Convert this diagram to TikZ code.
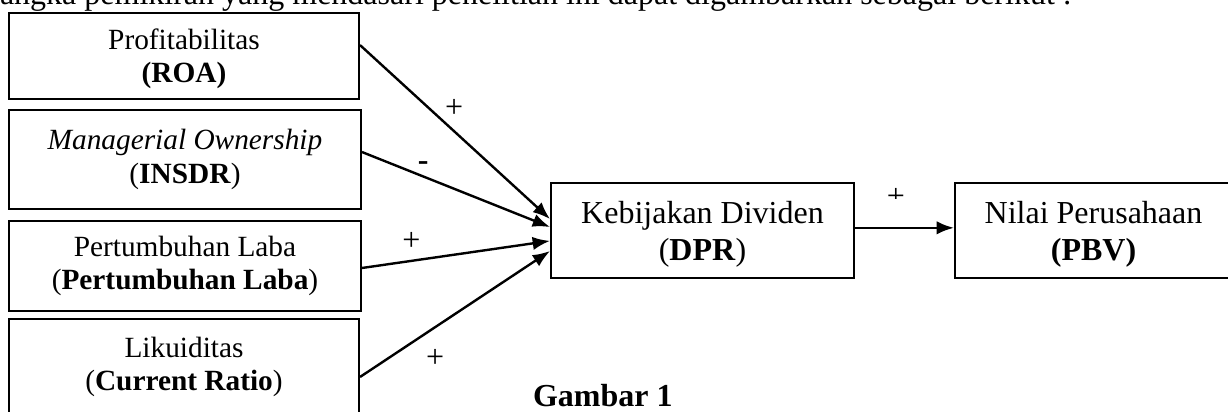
\documentclass[tikz,border=0pt]{standalone}
\usepackage{fontspec}
\setmainfont{Liberation Serif}
\usetikzlibrary{arrows.meta}
\newcommand{\pxu}{0.375pt}
\begin{document}
\begin{tikzpicture}[x=\pxu,y=-\pxu,line width=0.75pt,>={Latex[length=6.5pt,width=5pt]},
  kotak/.style={draw,inner sep=0pt,align=center,font=\fontsize{11}{12.65}\selectfont},
  kotakbesar/.style={kotak,font=\fontsize{12}{13.9}\selectfont,text height=22.2pt,text depth=0pt},
  panah/.style={->,line width=0.9pt},
  tanda/.style={inner sep=0pt,font=\fontsize{12}{13}\selectfont}]
\useasboundingbox (0,0) rectangle (1228,412);
\clip (0,0) rectangle (1228,412);
\node[anchor=base west,inner sep=0pt,font=\fontsize{12}{14}\selectfont] (pengantar) at (-1,5) {angka pemikiran yang mendasari penelitian ini dapat digambarkan sebagai berikut :};
\node[kotak,minimum width=350*\pxu,minimum height=86*\pxu,text height=20.2pt,text depth=0pt] (roa) at (184,56) {Profitabilitas\\\textbf{(ROA)}};
\node[kotak,minimum width=352*\pxu,minimum height=99*\pxu] (insdr) at (185,159.5) {\textit{Managerial Ownership}\\(\textbf{INSDR})};
\node[kotak,minimum width=352*\pxu,minimum height=90*\pxu] (laba) at (185,266) {Pertumbuhan Laba\\(\textbf{Pertumbuhan Laba})};
\node[kotak,minimum width=350*\pxu,minimum height=96*\pxu] (cr) at (184,367) {Likuiditas\\(\textbf{Current Ratio})};
\node[kotakbesar,minimum width=303*\pxu,minimum height=95*\pxu] (dpr) at (702.5,230.5) {Kebijakan Dividen\\(\textbf{DPR})};
\node[kotakbesar,minimum width=277*\pxu,minimum height=95*\pxu] (pbv) at (1093.5,230.5) {Nilai Perusahaan\\\textbf{(PBV)}};
\draw[panah] ([yshift=4.1pt]roa.east) -- ([yshift=4.3pt]dpr.west) node[tanda,pos=0.495,above=4.5pt] (h1) {+};
\draw[panah] ([yshift=2.8pt]insdr.east) -- ([yshift=1.3pt]dpr.west) node[tanda,pos=0.326,above=1.8pt] (h2) {\textbf{-}};
\draw[panah] ([yshift=-0.75pt]laba.east) -- ([yshift=-3.9pt]dpr.west) node[tanda,pos=0.263,above=3.6pt] (h3) {+};
\draw[panah] ([yshift=-3.75pt]cr.east) -- ([yshift=-7.7pt]dpr.west) node[tanda,pos=0.396,below=8pt] (h4) {+};
\draw[panah] ([yshift=1pt]dpr.east) -- ([yshift=1pt]pbv.west);
\begin{scope}
\clip (880,185) rectangle (915,198.5);
\node[tanda] (h5) at (896,197) {+};
\end{scope}
\node[anchor=base west,inner sep=0pt,font=\bfseries\fontsize{12}{14}\selectfont] (gambar) at (532,407) {Gambar 1};
\end{tikzpicture}
\end{document}
